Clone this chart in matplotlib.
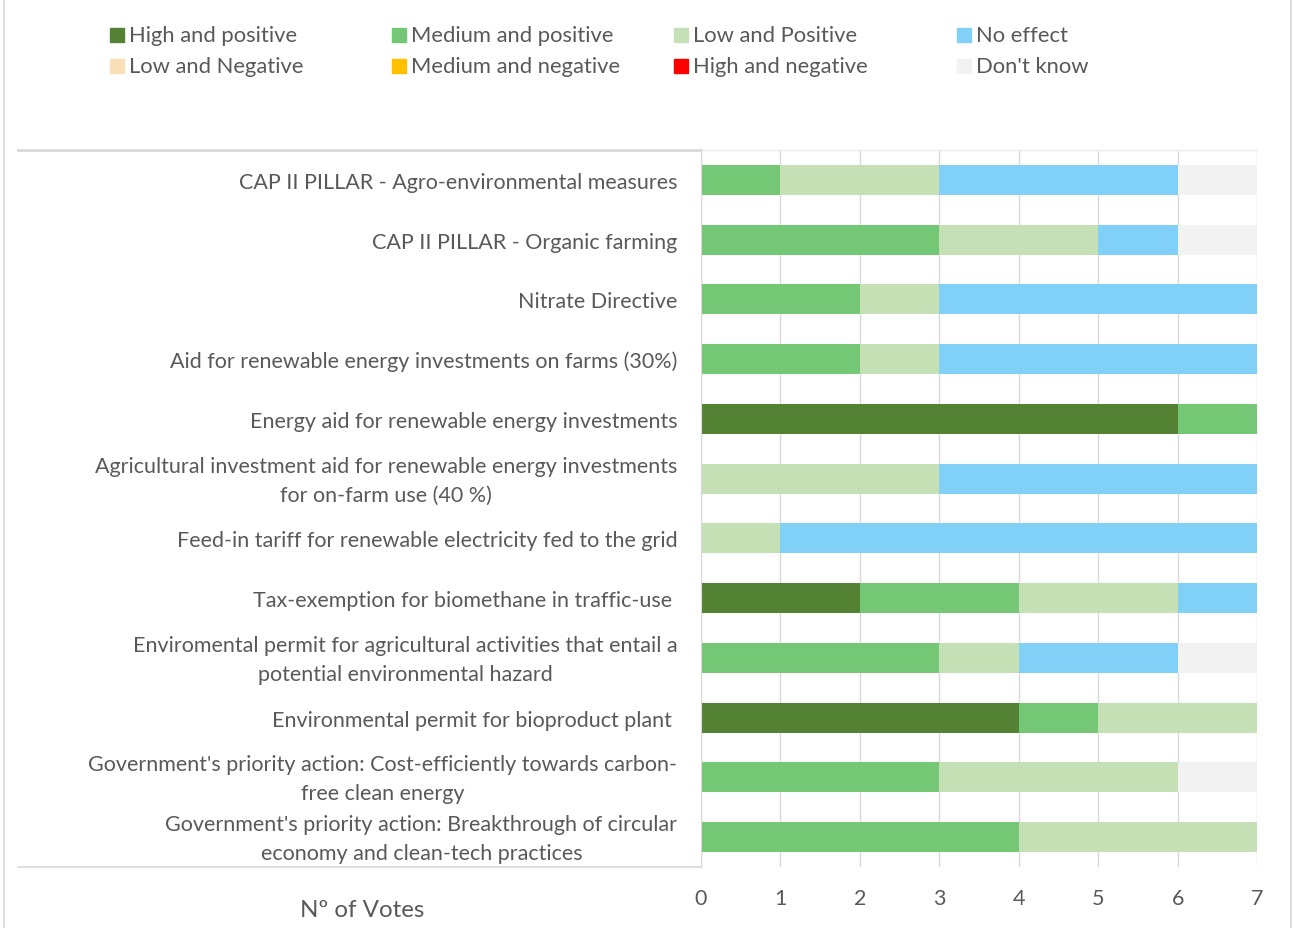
import matplotlib
matplotlib.use("Agg")
import matplotlib.pyplot as plt
import matplotlib.transforms as mtransforms
from matplotlib.patches import Rectangle
from matplotlib.lines import Line2D
import numpy as np

plt.rcParams['font.family'] = ['Lato', 'DejaVu Sans']

# data (top to bottom)
policies = [
    "CAP II PILLAR - Agro-environmental measures",
    "CAP II PILLAR - Organic farming",
    "Nitrate Directive",
    "Aid for renewable energy investments on farms (30%)",
    "Energy aid for renewable energy investments",
    "Agricultural investment aid for renewable energy investments\nfor on-farm use (40 %)",
    "Feed-in tariff for renewable electricity fed to the grid",
    "Tax-exemption for biomethane in traffic-use ",
    "Enviromental permit for agricultural activities that entail a\npotential environmental hazard",
    "Environmental permit for bioproduct plant ",
    "Government's priority action: Cost-efficiently towards carbon-\nfree clean energy",
    "Government's priority action: Breakthrough of circular\neconomy and clean-tech practices",
]
high_pos   = [0, 0, 0, 0, 6, 0, 0, 2, 0, 4, 0, 0]
medium_pos = [1, 3, 2, 2, 1, 0, 0, 2, 3, 1, 3, 4]
low_pos    = [2, 2, 1, 1, 0, 3, 1, 2, 1, 2, 3, 3]
no_effect  = [3, 1, 4, 4, 0, 4, 6, 1, 2, 0, 0, 0]
low_neg    = [0] * 12
medium_neg = [0] * 12
high_neg   = [0] * 12
dont_know  = [1, 1, 0, 0, 0, 0, 0, 0, 1, 0, 1, 0]

series = [
    ("High and positive", high_pos, "#548235"),
    ("Medium and positive", medium_pos, "#74C774"),
    ("Low and Positive", low_pos, "#C5E0B4"),
    ("No effect", no_effect, "#81D0F8"),
    ("Low and Negative", low_neg, "#F8DFB8"),
    ("Medium and negative", medium_neg, "#FFC000"),
    ("High and negative", high_neg, "#FF0000"),
    ("Don't know", dont_know, "#F2F2F2"),
]

W, H = 1293, 929
fig = plt.figure(figsize=(W / 100, H / 100), dpi=100)
txt = "#595959"
grid_c = "#D9D9D9"

def fx(px):
    return px / W

def fy(py):
    return 1 - py / H

ax = fig.add_axes([fx(701), fy(868), fx(1257) - fx(701), fy(151) - fy(868)])
y = np.arange(len(policies))
left = np.zeros(len(policies))
for name, vals, col in series:
    ax.barh(y, vals, left=left, height=0.5, color=col, zorder=2)
    left += np.array(vals)

ax.set_ylim(len(policies) - 0.5, -0.5)
ax.set_xlim(0, 7)
ax.set_xticks(range(8))
ax.set_yticks(y)
ax.set_yticklabels(policies, multialignment='center', linespacing=1.55)
ax.tick_params(axis='y', length=0, pad=17, labelsize=15.5, labelcolor=txt)
ax.tick_params(axis='x', length=0, pad=15, labelsize=15.5, labelcolor=txt)
ax.grid(axis='x', color=grid_c, linewidth=1, zorder=0)
ax.set_axisbelow(True)
for s in ['top', 'bottom', 'right']:
    ax.spines[s].set_visible(False)
ax.spines['left'].set_color(grid_c)

# nudge two-line labels up a little
lift = mtransforms.ScaledTranslation(0, 0.05, fig.dpi_scale_trans)
for lab in ax.get_yticklabels():
    if "\n" in lab.get_text():
        lab.set_transform(lab.get_transform() + lift)

# table lines at the left
fig.add_artist(Line2D([fx(18), fx(701)], [fy(151), fy(151)], color=grid_c, lw=2))
fig.add_artist(Line2D([fx(701), fx(1257)], [fy(151), fy(151)], color="#EBEBEB", lw=1))
fig.add_artist(Line2D([fx(18), fx(701)], [fy(868), fy(868)], color=grid_c, lw=1.2))
# chart border
fig.add_artist(Line2D([fx(4), fx(4)], [0, 1], color=grid_c, lw=1.2))
fig.add_artist(Line2D([fx(1291), fx(1291)], [0, 1], color=grid_c, lw=1.2))

fig.text(fx(362), fy(911), "Nº of Votes", ha='center', va='center', fontsize=17.4, color=txt)

# legend, row-wise layout
cols_x = [110, 392, 674, 957]
rows_y = [36, 67]
for i, (name, vals, col) in enumerate(series):
    r, c = divmod(i, 4)
    x0, y0 = cols_x[c], rows_y[r]
    fig.add_artist(Rectangle((fx(x0), fy(y0 + 7)), fx(14), 14 / H, color=col,
                             transform=fig.transFigure))
    fig.text(fx(x0 + 19), fy(y0), name, ha='left', va='center', fontsize=15.8, color=txt)

fig.savefig("out.png", dpi=100)
